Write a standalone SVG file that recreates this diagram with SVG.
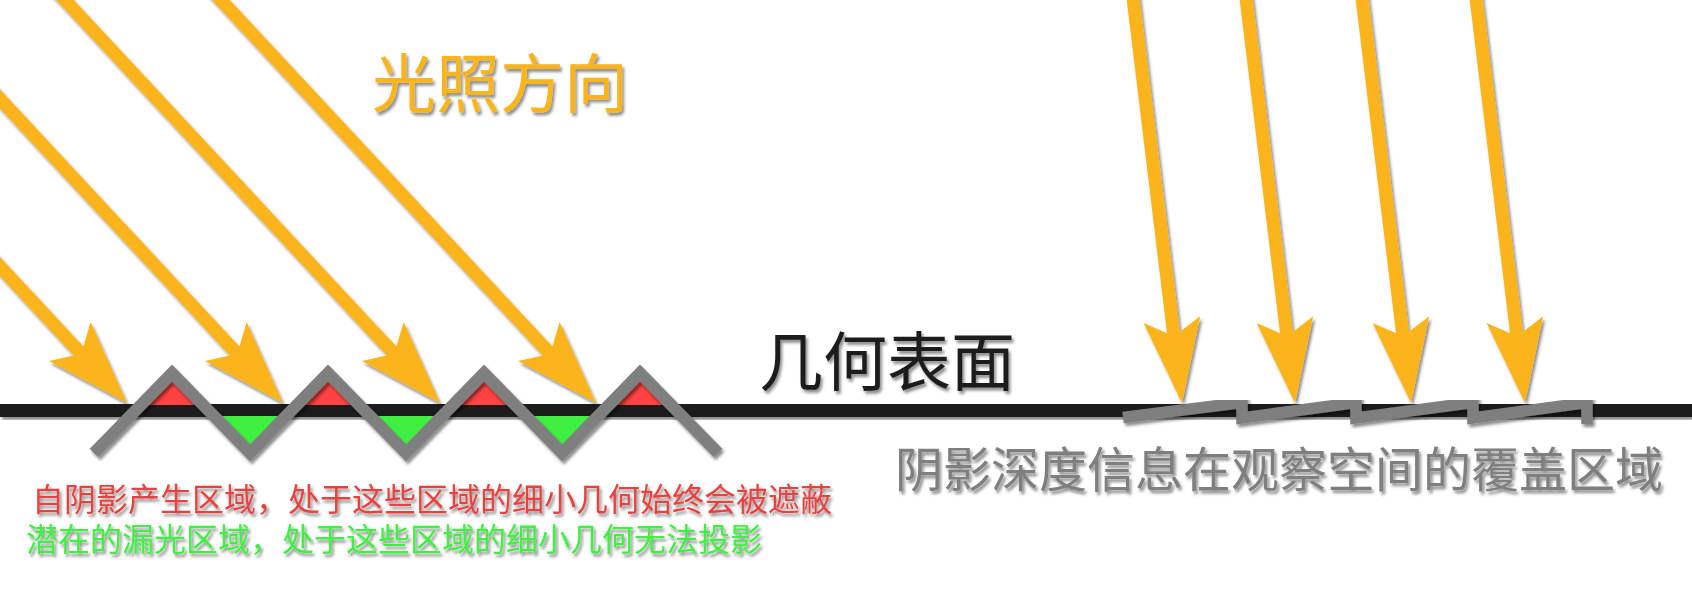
<svg xmlns="http://www.w3.org/2000/svg" xmlns:xlink="http://www.w3.org/1999/xlink" width="1692" height="598" viewBox="0 0 1692 598">
  <style>
    .txt { font-family: "Liberation Sans", "Noto Sans CJK SC", sans-serif; }
    .arrow { fill: #FBB41F; }
    .gray { fill: none; stroke: #7F7F7F; stroke-linejoin: miter; stroke-linecap: butt; }
  </style>
  <defs>
    <filter id="ds" x="-10%" y="-10%" width="120%" height="130%">
      <feDropShadow dx="2" dy="3" stdDeviation="1.8" flood-color="#000" flood-opacity="0.45"/>
    </filter>
    <path id="arrowDiag" d="M0,0 L-84,-28.5 L-71,-6.5 L-720,-6.5 L-720,6.5 L-71,6.5 L-84,28.5 Z"/>
    <path id="arrowVert" d="M0,0 L-84,-28.5 L-71,-6.5 L-460,-6.5 L-460,6.5 L-71,6.5 L-84,28.5 Z"/>
  </defs>
  <rect width="1692" height="598" fill="#FFFFFF"/>

  <g id="surface-line" filter="url(#ds)">
    <rect x="0" y="404" width="1692" height="13" fill="#1E1E1E"/>
  </g>

  <g id="self-shadow-regions" fill="#FF4242">
    <polygon points="172,373 140,405 204,405"/>
    <polygon points="328,373 296,405 360,405"/>
    <polygon points="484,373 452,405 516,405"/>
    <polygon points="640,373 608,405 672,405"/>
  </g>
  <g id="light-leak-regions" fill="#40F040">
    <polygon points="250,453 214,416 286,416"/>
    <polygon points="406,453 370,416 442,416"/>
    <polygon points="562,453 526,416 598,416"/>
  </g>

  <g id="micro-geometry" filter="url(#ds)">
    <polyline class="gray" stroke-width="12" points="94,453 172,373 250,453 328,373 406,453 484,373 562,453 640,373 718,453"/>
  </g>

  <g id="shadow-depth-coverage" filter="url(#ds)">
    <path class="gray" stroke-width="11.5" d="M1123,417.5 L1242,402.5 L1242,418 L1356,402.5 L1356,418 L1473,402.5 L1473,418 L1587,402.5 L1587,424"/>
  </g>

  <g id="connectors" class="arrow" filter="url(#ds)">
    <use xlink:href="#arrowDiag" transform="translate(127,403) rotate(47.06)"/>
    <use xlink:href="#arrowDiag" transform="translate(283,403) rotate(47.06)"/>
    <use xlink:href="#arrowDiag" transform="translate(440,403) rotate(47.06)"/>
    <use xlink:href="#arrowDiag" transform="translate(596,403) rotate(47.06)"/>
    <use xlink:href="#arrowVert" transform="translate(1182,403) rotate(83.1)"/>
    <use xlink:href="#arrowVert" transform="translate(1295,403) rotate(83.1)"/>
    <use xlink:href="#arrowVert" transform="translate(1411,403) rotate(83.1)"/>
    <use xlink:href="#arrowVert" transform="translate(1525,403) rotate(83.1)"/>
  </g>

  <g id="label-light-direction" filter="url(#ds)">
    <text class="txt" x="372" y="107" font-size="64" fill="#FBB41F">光照方向</text>
  </g>
  <g id="label-geometry-surface" filter="url(#ds)">
    <text class="txt" x="759" y="385" font-size="64" fill="#1E1E1E">几何表面</text>
  </g>
  <g id="label-coverage" filter="url(#ds)">
    <text class="txt" x="895" y="487" font-size="48" fill="#7F7F7F">阴影深度信息在观察空间的覆盖区域</text>
  </g>
  <g id="label-self-shadow" filter="url(#ds)">
    <text class="txt" x="32" y="511" font-size="32" fill="#E84340">自阴影产生区域，处于这些区域的细小几何始终会被遮蔽</text>
  </g>
  <g id="label-light-leak" filter="url(#ds)">
    <text class="txt" x="26" y="551" font-size="32" fill="#40F040">潜在的漏光区域，处于这些区域的细小几何无法投影</text>
  </g>
</svg>
